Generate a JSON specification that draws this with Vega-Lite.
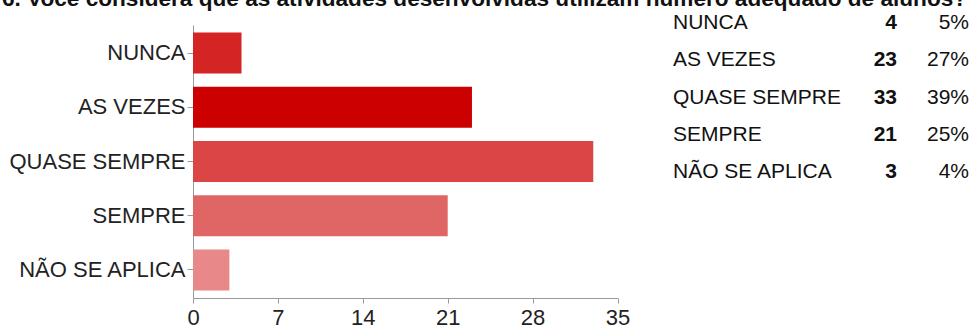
{
  "$schema": "https://vega.github.io/schema/vega-lite/v6.json",
  "autosize": {"type": "none"},
  "width": 777,
  "height": 273,
  "padding": {"left": 193, "top": 25, "right": 2, "bottom": 29},
  "background": "white",
  "config": {"font": "Liberation Sans", "view": {"stroke": null}},
  "title": {
    "text": "6. Você considera que as atividades desenvolvidas utilizam número adequado de alunos?",
    "anchor": "start",
    "frame": "bounds",
    "fontSize": 22.6,
    "fontWeight": "bold",
    "color": "#111111",
    "dx": -7,
    "offset": 0,
    "dy": 17,
    "baseline": "alphabetic"
  },
  "data": {
    "values": [
      {"resposta": "NUNCA", "n": 4, "pct": 0.05},
      {"resposta": "AS VEZES", "n": 23, "pct": 0.27},
      {"resposta": "QUASE SEMPRE", "n": 33, "pct": 0.39},
      {"resposta": "SEMPRE", "n": 21, "pct": 0.25},
      {"resposta": "NÃO SE APLICA", "n": 3, "pct": 0.04}
    ]
  },
  "resolve": {"scale": {"x": "independent", "y": "independent", "color": "independent"}, "axis": {"x": "independent", "y": "independent"}},
  "layer": [
    {
      "mark": {"type": "bar"},
      "encoding": {
        "y": {
          "field": "resposta", "type": "nominal",
          "sort": ["NUNCA", "AS VEZES", "QUASE SEMPRE", "SEMPRE", "NÃO SE APLICA"],
          "scale": {"paddingInner": 0.244, "paddingOuter": 0.14},
          "axis": {"title": null, "labelFontSize": 22, "labelColor": "#222222", "tickColor": "#999999", "domainColor": "#999999", "tickSize": 6, "labelPadding": 2}
        },
        "x": {
          "field": "n", "type": "quantitative",
          "scale": {"domain": [0, 35], "range": [0, 424.5], "nice": false},
          "axis": {"values": [0, 7, 14, 21, 28, 35], "grid": false, "title": null, "labelFontSize": 22, "labelColor": "#222222", "tickColor": "#999999", "domainColor": "#999999", "tickSize": 5, "labelPadding": 4, "labelFlush": false}
        },
        "color": {
          "field": "resposta", "type": "nominal",
          "scale": {"domain": ["NUNCA", "AS VEZES", "QUASE SEMPRE", "SEMPRE", "NÃO SE APLICA"], "range": ["#d42424", "#cc0000", "#db4545", "#e06666", "#e88888"]},
          "legend": null
        }
      }
    },
    {
      "mark": {"type": "text", "align": "left", "baseline": "middle", "fontSize": 21, "color": "#111111"},
      "encoding": {
        "y": {"field": "resposta", "type": "nominal", "sort": ["NUNCA", "AS VEZES", "QUASE SEMPRE", "SEMPRE", "NÃO SE APLICA"], "scale": {"type": "point", "range": [-2, 147], "padding": 0}, "axis": null},
        "x": {"datum": 480, "type": "quantitative", "scale": {"domain": [0, 777], "range": [0, 777]}, "axis": null},
        "text": {"field": "resposta"}
      }
    },
    {
      "mark": {"type": "text", "align": "right", "baseline": "middle", "fontSize": 21, "fontWeight": "bold", "color": "#111111"},
      "encoding": {
        "y": {"field": "resposta", "type": "nominal", "sort": ["NUNCA", "AS VEZES", "QUASE SEMPRE", "SEMPRE", "NÃO SE APLICA"], "scale": {"type": "point", "range": [-2, 147], "padding": 0}, "axis": null},
        "x": {"datum": 704, "type": "quantitative", "scale": {"domain": [0, 777], "range": [0, 777]}, "axis": null},
        "text": {"field": "n", "type": "quantitative"}
      }
    },
    {
      "mark": {"type": "text", "align": "right", "baseline": "middle", "fontSize": 21, "color": "#111111"},
      "encoding": {
        "y": {"field": "resposta", "type": "nominal", "sort": ["NUNCA", "AS VEZES", "QUASE SEMPRE", "SEMPRE", "NÃO SE APLICA"], "scale": {"type": "point", "range": [-2, 147], "padding": 0}, "axis": null},
        "x": {"datum": 776, "type": "quantitative", "scale": {"domain": [0, 777], "range": [0, 777]}, "axis": null},
        "text": {"field": "pct", "type": "quantitative", "format": ".0%"}
      }
    }
  ]
}
